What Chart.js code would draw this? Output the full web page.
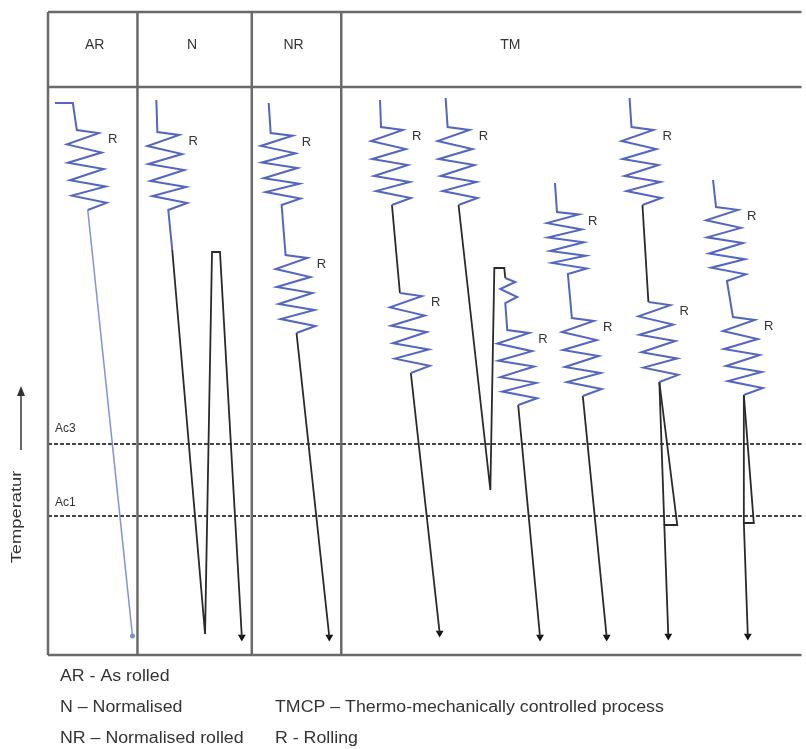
<!DOCTYPE html>
<html>
<head>
<meta charset="utf-8">
<title>AR / N / NR / TM</title>
<script src="https://cdn.jsdelivr.net/npm/chart.js@4.4.0/dist/chart.umd.min.js"></script>
<style>
  html, body { margin: 0; padding: 0; background: #fff; }
  canvas { display: block; }
</style>
</head>
<body>
<canvas id="chart" width="806" height="749"></canvas>
<script>
// columnas del esquema (x = tiempo, y = temperatura, unidades arbitrarias)
const columnEdges = [0, 90, 205, 295];
const columnNames = ['AR', 'N', 'NR', 'TM'];
const columnCentres = [47, 145, 247, 465];
const headerLevel = 568;
const headerText = 610;
const frameTop = 643;
const frameRight = 758;

const acNames = ['Ac3', 'Ac1'];
const acLevels = [211, 139];
const acLabelLevels = [226, 152];

// forma de un tramo de laminacion (zigzag)
const coilDX = [0, 22, -10, 25, -9, 27, -7, 29, -5, 30, 11];
const coilDY = [0, 3, 14, 22, 32, 38, 49, 55, 64, 71, 78];

// inicio y altura de cada tramo "R"
const coilX = [29, 110, 224, 239, 335, 354, 402, 462, 512, 527, 587, 604, 672, 689];
const coilY = [525, 523, 522, 400, 528, 362, 528, 325, 443, 337, 528, 353, 448, 338];
const coilH = [80, 78, 72, 78, 78, 80, 78, 75, 62, 78, 78, 80, 74, 78];

// recorridos: 'Cn' = tramo n, 'An' = inicio del tramo n, 'En' = fin del tramo n
const pathARCool = ['E0', [85, 19]];
const bluePaths = [
  [[7, 552], [25, 552], 'C0'],
  [[109, 555], 'C1', [125, 405]],
  [[222, 552], 'C2', 'C3'],
  [[334, 555], 'C4'],
  ['C5'],
  [[400, 557], 'C6'],
  [[460, 377], [470, 373], [455, 366], [472, 358], [460, 352], 'C7'],
  [[510, 472], 'C8', 'C9'],
  [[585, 557], 'C10'],
  ['C11'],
  [[669, 475], 'C12', 'C13']
];
const darkPaths = [
  [[125, 405], [158, 21], [165, 403], [173, 403], [195, 18]],
  ['E3', [283, 18]],
  ['E4', 'A5'],
  ['E5', [394, 22]],
  ['E6', [445, 165], [449, 387], [459, 387], [460, 377]],
  ['E7', [495, 18]],
  ['E9', [562, 18]],
  ['E10', 'A11'],
  ['E11', [633, 130], [620, 130], [624, 19]],
  ['E11', [620, 130]],
  ['E13', [710, 132], [700, 132], [704, 19]],
  ['E13', [700, 132]]
];
const arrowX = [195, 283, 394, 495, 562, 624, 704];
const arrowY = [18, 18, 22, 18, 18, 19, 19];

const legendLeft = ['AR - As rolled', 'N \u2013 Normalised', 'NR \u2013 Normalised rolled'];
const legendRight = ['', 'TMCP \u2013 Thermo-mechanically controlled process', 'R - Rolling'];

function expand(path) {
    var pts = [];
    path.forEach(function (p) {
        if (typeof p === 'string') {
            var i = parseInt(p.slice(1));
            if (p[0] === 'C') {
                coilDX.forEach(function (dx, k) {
                    pts.push({ x: coilX[i] + dx, y: coilY[i] - coilDY[k] * coilH[i] / 78 });
                });
            } else if (p[0] === 'A') {
                pts.push({ x: coilX[i], y: coilY[i] });
            } else {
                pts.push({ x: coilX[i] + coilDX[coilDX.length - 1], y: coilY[i] - coilH[i] });
            }
        } else {
            pts.push({ x: p[0], y: p[1] });
        }
    });
    return pts;
}

function lineSet(path, color, width) {
    return {
        data: expand(path),
        showLine: true,
        borderColor: color,
        borderWidth: width,
        pointRadius: 0,
        tension: 0,
        clip: false
    };
}

var datasets = [];
datasets.push(lineSet(pathARCool, '#8093da', 1.5));
bluePaths.forEach(function (p) { datasets.push(lineSet(p, '#5366c4', 2)); });
darkPaths.forEach(function (p) { datasets.push(lineSet(p, '#2a2a2a', 1.8)); });
datasets.push({
    data: [{ x: 85, y: 19 }],
    pointStyle: 'circle',
    pointRadius: 2.5,
    backgroundColor: '#7a8ed8',
    borderWidth: 0,
    clip: false
});
datasets.push({
    data: arrowX.map(function (v, i) { return { x: v, y: arrowY[i] }; }),
    pointStyle: 'triangle',
    rotation: 180,
    pointRadius: 4.5,
    backgroundColor: '#111',
    borderWidth: 0,
    clip: false
});

// texto algo ensanchado, como en el original
function wideText(ctx, text, px, py, sx) {
    ctx.save();
    ctx.translate(px, py);
    ctx.scale(sx, 1);
    ctx.fillText(text, 0, 0);
    ctx.restore();
}

const schemePlugin = {
    id: 'scheme',
    beforeDatasetsDraw: function (chart) {
        var ctx = chart.ctx, x = chart.scales.x, y = chart.scales.y;
        var x0 = x.getPixelForValue(0), x1 = x.getPixelForValue(frameRight);
        ctx.save();
        // lineas Ac3 / Ac1
        ctx.setLineDash([4, 2]);
        ctx.strokeStyle = '#444';
        ctx.lineWidth = 2;
        acLevels.forEach(function (v) {
            ctx.beginPath();
            ctx.moveTo(x0, y.getPixelForValue(v));
            ctx.lineTo(x1, y.getPixelForValue(v));
            ctx.stroke();
        });
        ctx.setLineDash([]);
        // marco y cabecera
        ctx.strokeStyle = '#6a6a6a';
        ctx.lineWidth = 2.5;
        [frameTop, headerLevel, 0].forEach(function (v) {
            ctx.beginPath();
            ctx.moveTo(x0, y.getPixelForValue(v));
            ctx.lineTo(x1, y.getPixelForValue(v));
            ctx.stroke();
        });
        columnEdges.forEach(function (v) {
            ctx.beginPath();
            ctx.moveTo(x.getPixelForValue(v), y.getPixelForValue(frameTop));
            ctx.lineTo(x.getPixelForValue(v), y.getPixelForValue(0));
            ctx.stroke();
        });
        ctx.restore();
    },
    afterDatasetsDraw: function (chart) {
        var ctx = chart.ctx, x = chart.scales.x, y = chart.scales.y, area = chart.chartArea;
        ctx.save();
        ctx.fillStyle = '#333';
        ctx.textBaseline = 'middle';
        ctx.textAlign = 'center';
        ctx.font = '14px "Liberation Sans", Arial, sans-serif';
        columnNames.forEach(function (t, i) {
            ctx.fillText(t, x.getPixelForValue(columnCentres[i]), y.getPixelForValue(headerText));
        });
        ctx.font = '13px "Liberation Sans", Arial, sans-serif';
        coilX.forEach(function (v, i) {
            ctx.fillText('R', x.getPixelForValue(v + 36), y.getPixelForValue(coilY[i] - 9));
        });
        ctx.textAlign = 'left';
        ctx.font = '12px "Liberation Sans", Arial, sans-serif';
        acNames.forEach(function (t, i) {
            ctx.fillText(t, x.getPixelForValue(7), y.getPixelForValue(acLabelLevels[i]));
        });
        // titulo del eje y con flecha
        ctx.save();
        ctx.translate(area.left - 31, area.top + 505);
        ctx.rotate(-Math.PI / 2);
        ctx.textAlign = 'center';
        ctx.font = '15px "Liberation Sans", Arial, sans-serif';
        ctx.scale(1.22, 1);
        ctx.fillText('Temperatur', 0, 0);
        ctx.restore();
        ctx.strokeStyle = '#333';
        ctx.lineWidth = 1.5;
        ctx.beginPath();
        ctx.moveTo(area.left - 27, area.top + 438);
        ctx.lineTo(area.left - 27, area.top + 382);
        ctx.stroke();
        ctx.beginPath();
        ctx.moveTo(area.left - 27, area.top + 374);
        ctx.lineTo(area.left - 31, area.top + 384);
        ctx.lineTo(area.left - 23, area.top + 384);
        ctx.closePath();
        ctx.fill();
        // leyenda inferior
        ctx.font = '16px "Liberation Sans", Arial, sans-serif';
        legendLeft.forEach(function (t, i) {
            wideText(ctx, t, area.left + 12, area.bottom + 22 + i * 31, 1.11);
        });
        legendRight.forEach(function (t, i) {
            wideText(ctx, t, area.left + 227, area.bottom + 22 + i * 31, 1.11);
        });
        ctx.restore();
    }
};

var chart = new Chart(document.getElementById('chart').getContext('2d'), {
    type: 'scatter',
    data: { datasets: datasets },
    options: {
        responsive: false,
        animation: false,
        devicePixelRatio: 1,
        layout: { padding: { left: 48, top: 12, right: 0, bottom: 94 } },
        plugins: { legend: { display: false }, tooltip: { enabled: false } },
        scales: {
            x: { type: 'linear', min: 0, max: frameRight, display: false },
            y: { type: 'linear', min: 0, max: frameTop, display: false }
        }
    },
    plugins: [schemePlugin]
});
</script>
</body>
</html>
